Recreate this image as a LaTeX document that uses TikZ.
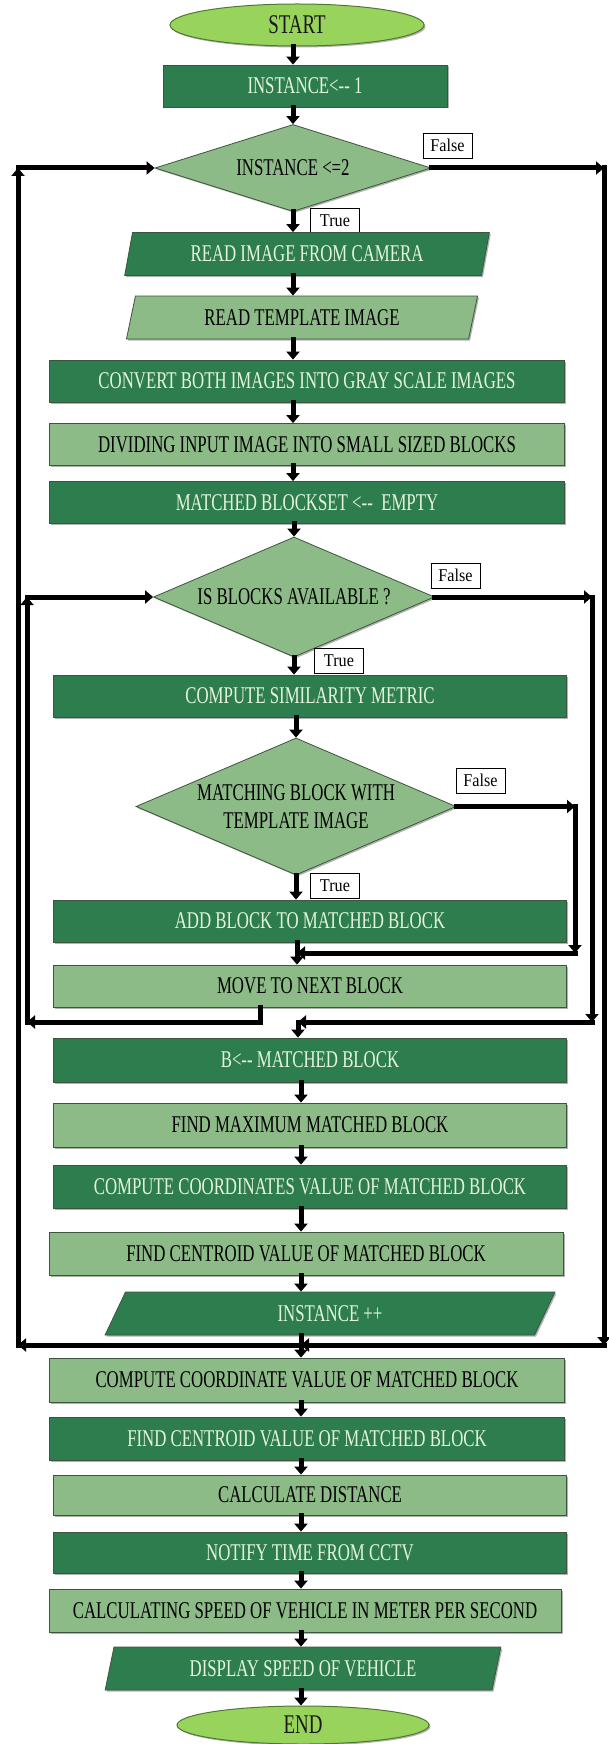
\documentclass[tikz,border=0pt]{standalone}
\usepackage{fontspec}
\setmainfont{Liberation Serif}[FakeStretch=0.70]
\newfontfamily\lblfont{Liberation Serif}[FakeStretch=0.90]
\usetikzlibrary{shapes.geometric,arrows.meta,shadows}
\definecolor{dkg}{RGB}{46,125,78}
\definecolor{ltg}{RGB}{141,187,136}
\definecolor{limeg}{RGB}{152,212,92}
\definecolor{limeb}{RGB}{80,120,50}
\definecolor{dktxt}{RGB}{228,245,222}
\definecolor{bord}{RGB}{60,85,60}
\begin{document}
\begin{tikzpicture}[x=1pt,y=-1pt,
  base/.style={draw=bord, line width=0.8pt, inner sep=0pt,
    font=\fontsize{24}{28}\selectfont,
    drop shadow={shadow xshift=1.5pt, shadow yshift=-1.5pt, fill=black, opacity=0.3}},
  dbox/.style={base, rectangle, fill=dkg, text=dktxt, minimum height=42pt, minimum width=513pt},
  lbox/.style={base, rectangle, fill=ltg, text=black, minimum height=42pt, minimum width=513pt},
  para/.style={base, trapezium, trapezium left angle=72, trapezium right angle=108,
    trapezium stretches=true, minimum height=43pt},
  dpara/.style={para, fill=dkg, text=dktxt},
  lpara/.style={para, fill=ltg, text=black},
  dia/.style={base, diamond, fill=ltg, text=black},
  ell/.style={base, ellipse, fill=limeg, draw=limeb, line width=1pt, text=black!90,
    font=\fontsize{27}{30}\selectfont},
  lbl/.style={draw=black, line width=0.6pt, fill=white, inner sep=0pt,
    minimum width=49pt, minimum height=25pt, font=\lblfont\fontsize{18}{20}\selectfont},
  arr/.style={draw=black, line width=5pt, line cap=rect, -{Triangle[length=8pt,width=13pt]}},
  ln/.style={draw=black, line width=5pt, line cap=rect}
]
\useasboundingbox (0,0) rectangle (609,1744);
\fill[white] (0,0) rectangle (609,1744);

% spine coordinates
\coordinate (s1) at (293,0);
\coordinate (s3) at (301,0);

% nodes
\node[ell, minimum width=254pt, minimum height=42pt] (start) at (297,25) {START};
\node[dbox, minimum width=284pt] (ini) at (305,86) {INSTANCE<-{}- 1};
\node[dia, minimum width=276pt, minimum height=87pt, shape aspect=3.17] (d1) at (293,168) {INSTANCE <=2};
\node[lbl] (f1) at (447.5,145.5) {False};
\node[lbl] (t1) at (335,220.5) {True};
\node[dpara, minimum width=365pt] (rd) at (307,254) {READ IMAGE FROM CAMERA};
\node[lpara, minimum width=352pt] (rt) at (302,317.5) {READ TEMPLATE IMAGE};
\node[dbox, minimum width=515pt] (conv) at (307,381) {CONVERT BOTH IMAGES INTO GRAY SCALE IMAGES};
\node[lbox, minimum width=515pt] (div) at (307,444.5) {DIVIDING INPUT IMAGE INTO SMALL SIZED BLOCKS};
\node[dbox, minimum width=515pt] (mbs) at (307,502.5) {MATCHED BLOCKSET <-{}-\ \ EMPTY};
\node[dia, minimum width=281pt, minimum height=120pt, shape aspect=2.34] (d2) at (294,597) {IS BLOCKS AVAILABLE ?};
\node[lbl] (f2) at (455.5,575.5) {False};
\node[lbl] (t2) at (339,660.5) {True};
\node[dbox] (cs) at (310,696) {COMPUTE SIMILARITY METRIC};
\node[dia, minimum width=320pt, minimum height=137pt, shape aspect=2.34, align=center] (d3) at (296,806.5) {MATCHING BLOCK WITH\\TEMPLATE IMAGE};
\node[lbl] (f3) at (480.5,780.5) {False};
\node[lbl] (t3) at (335,885.5) {True};
\node[dbox] (add) at (310,921) {ADD BLOCK TO MATCHED BLOCK};
\node[lbox] (move) at (310,986) {MOVE TO NEXT BLOCK};
\node[dbox, minimum height=44pt] (bm) at (310,1060) {B<-{}- MATCHED BLOCK};
\node[lbox, minimum height=44pt] (fm) at (310,1125) {FIND MAXIMUM MATCHED BLOCK};
\node[dbox, minimum height=43pt] (coords) at (310,1186.5) {COMPUTE COORDINATES VALUE OF MATCHED BLOCK};
\node[lbox, minimum width=514pt, minimum height=43pt] (cent) at (306,1253.5) {FIND CENTROID VALUE OF MATCHED BLOCK};
\node[dpara, minimum width=450pt] (inc) at (330,1313.5) {INSTANCE ++};
\node[lbox, minimum width=515pt, minimum height=44pt] (cc) at (307,1380) {COMPUTE COORDINATE VALUE OF MATCHED BLOCK};
\node[dbox, minimum width=515pt, minimum height=43pt] (fc) at (307,1438.5) {FIND CENTROID VALUE OF MATCHED BLOCK};
\node[lbox, minimum height=40pt] (cd) at (310,1495) {CALCULATE DISTANCE};
\node[dbox, minimum height=41pt] (nt) at (310,1552.5) {NOTIFY TIME FROM CCTV};
\node[lbox, minimum width=512pt, minimum height=43pt] (spd) at (305,1610.5) {CALCULATING SPEED OF VEHICLE IN METER PER SECOND};
\node[dpara, minimum width=396pt] (disp) at (303,1668.5) {DISPLAY SPEED OF VEHICLE};
\node[ell, minimum width=252pt, minimum height=38pt] (end) at (303,1725) {END};

% loop coordinates
\coordinate (oLb) at (18,1345);
\coordinate (oLt) at (18,168);
\coordinate (oRt) at (604,168);
\coordinate (oRb) at (604,1345);
\coordinate (oM) at (301,1345);
\coordinate (iLb) at (27,1022);
\coordinate (iLt) at (27,597);
\coordinate (iRt) at (592,597);
\coordinate (iRb) at (592,1022);
\coordinate (iM) at (298,1022);
\coordinate (iS) at (260,1022);
\coordinate (fR) at (575,806.5);
\coordinate (fRb) at (575,953);
\coordinate (mM) at (297,953);

% main flow
\draw[arr] (start.south -| s1) -- (ini.north -| s1);
\draw[arr] (ini.south -| s1) -- (d1.north);
\draw[arr] (d1.south) -- (rd.north -| s1);
\draw[arr] (rd.south -| s1) -- (rt.north -| s1);
\draw[arr] (rt.south -| s1) -- (conv.north -| s1);
\draw[arr] (conv.south -| s1) -- (div.north -| s1);
\draw[arr] (div.south -| s1) -- (mbs.north -| s1);
\draw[arr] (mbs.south -| d2.north) -- (d2.north);
\draw[arr] (d2.south) -- (cs.north -| d2.south);
\draw[arr] (cs.south -| d3.north) -- (d3.north);
\draw[arr] (d3.south) -- (add.north -| d3.south);

% false branch of d3
\draw[arr] (d3.east) -- (fR);
\draw[arr] (fR) -- (fRb);
\draw[arr] (fRb) -- (mM);
\draw[ln] (add.south -| mM) -- (mM);
\draw[arr] (mM) -- (move.north -| mM);

% inner loop
\draw[arr] (move.south -| iS) -- (iS) -- (iLb);
\draw[arr] (iLb) -- (iLt);
\draw[arr] (iLt) -- (d2.west);
\draw[arr] (d2.east) -- (iRt);
\draw[arr] (iRt) -- (iRb);
\draw[arr] (iRb) -- (iM);
\draw[arr] (iM) -- (bm.north -| iM);

% after inner loop
\draw[arr] (bm.south -| s3) -- (fm.north -| s3);
\draw[arr] (fm.south -| s3) -- (coords.north -| s3);
\draw[arr] (coords.south -| s3) -- (cent.north -| s3);
\draw[arr] (cent.south -| s3) -- (inc.north -| s3);

% outer loop
\draw[arr] (inc.south -| oM) -- (oM) -- (oLb);
\draw[arr] (oLb) -- (oLt);
\draw[arr] (oLt) -- (d1.west);
\draw[arr] (d1.east) -- (oRt);
\draw[arr] (oRt) -- (oRb);
\draw[arr] (oRb) -- (oM);
\draw[arr] (oM) -- (cc.north -| oM);

% final chain
\draw[arr] (cc.south -| s3) -- (fc.north -| s3);
\draw[arr] (fc.south -| s3) -- (cd.north -| s3);
\draw[arr] (cd.south -| s3) -- (nt.north -| s3);
\draw[arr] (nt.south -| s3) -- (spd.north -| s3);
\draw[arr] (spd.south -| s3) -- (disp.north -| s3);
\draw[arr] (disp.south -| s3) -- (end.north -| s3);
\end{tikzpicture}
\end{document}
